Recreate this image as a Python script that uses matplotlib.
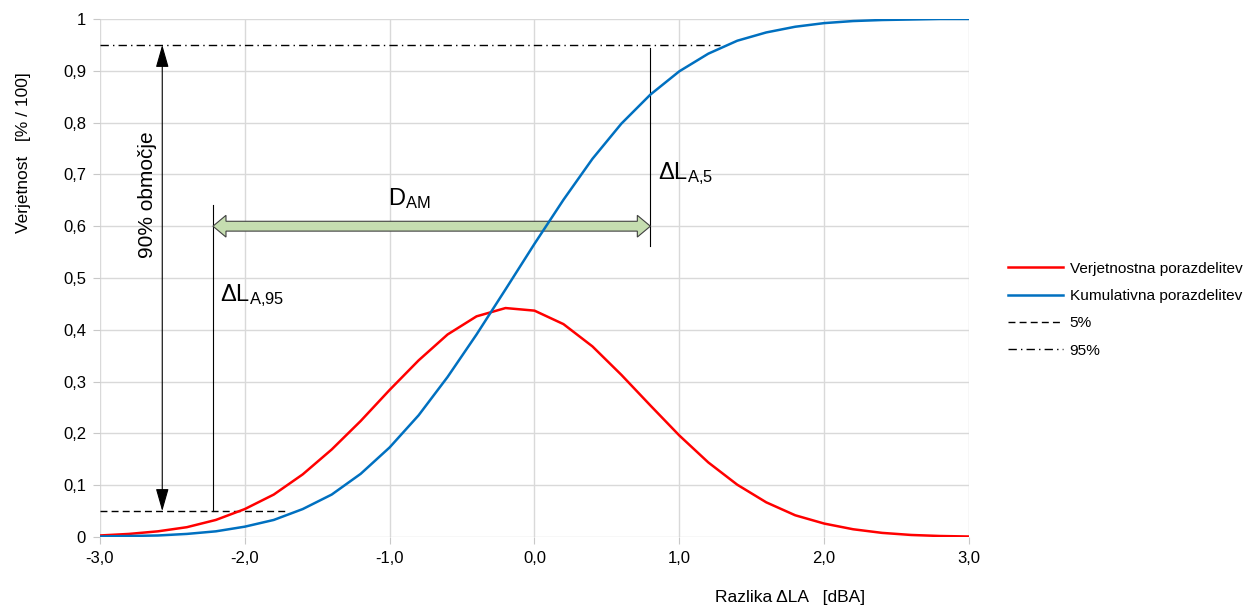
import numpy as np
import matplotlib
matplotlib.use('Agg')
import matplotlib.pyplot as plt
from matplotlib.patches import Polygon

plt.rcParams['font.family'] = ['Liberation Sans', 'DejaVu Sans']
plt.rcParams['mathtext.fontset'] = 'custom'
plt.rcParams['mathtext.rm'] = 'Liberation Sans'
plt.rcParams['mathtext.it'] = 'Liberation Sans:italic'

# razlika dLA [dBA]
x = [-3.0, -2.8, -2.6, -2.4, -2.2, -2.0, -1.8, -1.6, -1.4, -1.2, -1.0,
     -0.8, -0.6, -0.4, -0.2, 0.0, 0.2, 0.4, 0.6, 0.8, 1.0,
     1.2, 1.4, 1.6, 1.8, 2.0, 2.2, 2.4, 2.6, 2.8, 3.0]
# verjetnostna porazdelitev
pdf = [0.003, 0.006, 0.011, 0.019, 0.033, 0.054, 0.082, 0.121, 0.169, 0.224, 0.284,
       0.341, 0.391, 0.426, 0.442, 0.437, 0.411, 0.368, 0.313, 0.254, 0.196,
       0.144, 0.101, 0.067, 0.042, 0.026, 0.015, 0.008, 0.004, 0.002, 0.001]
# kumulativna porazdelitev
cdf = [0.001, 0.002, 0.003, 0.006, 0.011, 0.020, 0.033, 0.054, 0.082, 0.122, 0.173,
       0.235, 0.309, 0.391, 0.478, 0.566, 0.651, 0.730, 0.798, 0.854, 0.899,
       0.933, 0.958, 0.974, 0.985, 0.992, 0.996, 0.998, 0.999, 1.0, 1.0]

p5, p95 = 0.05, 0.95
x_5_end = -1.7       # konec crte 5%
x_95_end = 1.28      # konec crte 95%
x_range = -2.57      # puscica 90% obmocje
x_la95 = -2.22       # dLA,95
x_la5 = 0.80         # dLA,5
y_dam = 0.6

xticks = [-3, -2, -1, 0, 1, 2, 3]
xlabels = ['-3,0', '-2,0', '-1,0', '0,0', '1,0', '2,0', '3,0']
yticks = [0, 0.1, 0.2, 0.3, 0.4, 0.5, 0.6, 0.7, 0.8, 0.9, 1.0]
ylabels = ['0', '0,1', '0,2', '0,3', '0,4', '0,5', '0,6', '0,7', '0,8', '0,9', '1']

fig = plt.figure(figsize=(12.56, 6.12), dpi=100)
ax = fig.add_axes([0.0796, 0.1225, 0.6919, 0.8465])

ax.plot(x, pdf, color='#ff0000', lw=1.8, label='Verjetnostna porazdelitev', zorder=4)
ax.plot(x, cdf, color='#0070c0', lw=1.8, label='Kumulativna porazdelitev', zorder=4)
ax.plot([-3, x_5_end], [p5, p5], color='black', lw=1.0, dashes=(5, 3), label='5%', zorder=3)
ax.plot([-3, x_95_end], [p95, p95], color='black', lw=1.0, dashes=(6, 3, 1, 3), label='95%', zorder=3)

# 90% obmocje
ax.annotate('', xy=(x_range, p95), xytext=(x_range, p5),
            arrowprops=dict(arrowstyle='<|-|>,head_length=1.4,head_width=0.4',
                            mutation_scale=10, color='black', lw=0.8,
                            shrinkA=0, shrinkB=0), zorder=3)
ax.text(x_range - 0.1, 0.66, '90% območje', rotation=90, ha='center', va='center', fontsize=15)

# navpicni crti
ax.plot([x_la95, x_la95], [p5, 0.64], color='black', lw=0.8, zorder=3)
ax.plot([x_la5, x_la5], [0.562, 0.944], color='black', lw=0.8, zorder=3)
ax.text(x_la95 + 0.05, 0.455, r'$\Delta$L$_{\mathrm{A{,}95}}$', fontsize=17)
ax.text(x_la5 + 0.05, 0.69, r'$\Delta$L$_{\mathrm{A{,}5}}$', fontsize=17)

# D_AM - zelena dvojna puscica
hl, hw, sw = 0.09, 0.021, 0.0095
xa, xb = x_la95, x_la5
pts = [(xa, y_dam), (xa + hl, y_dam + hw), (xa + hl, y_dam + sw), (xb - hl, y_dam + sw),
       (xb - hl, y_dam + hw), (xb, y_dam), (xb - hl, y_dam - hw), (xb - hl, y_dam - sw),
       (xa + hl, y_dam - sw), (xa + hl, y_dam - hw)]
ax.add_patch(Polygon(pts, closed=True, facecolor='#c5ddb0', edgecolor='#404040', lw=0.8, zorder=3))
ax.text(-1.01, 0.64, r'D$_{\mathrm{AM}}$', fontsize=17)

ax.set_xlim(-3, 3)
ax.set_ylim(0, 1)
ax.set_xticks(xticks)
ax.set_xticklabels(xlabels)
ax.set_yticks(yticks)
ax.set_yticklabels(ylabels)
ax.tick_params(labelsize=12, length=5, color='#c8c8c8', pad=5)
ax.grid(True, color='#d9d9d9', lw=1.0)
ax.set_axisbelow(True)
for s in ax.spines.values():
    s.set_visible(False)

fig.text(0.629, 0.012, 'Razlika ΔLA   [dBA]', ha='center', va='bottom', fontsize=12.5)
fig.text(0.019, 0.75, 'Verjetnost   [% / 100]', rotation=90, ha='center', va='center', fontsize=12.5)

fig.legend(loc='center left', bbox_to_anchor=(0.8025, 0.494), frameon=False, fontsize=11.1,
           handlelength=3.6, handletextpad=0.4, labelspacing=0.86, borderpad=0, borderaxespad=0)

fig.savefig('out.png', dpi=100)
